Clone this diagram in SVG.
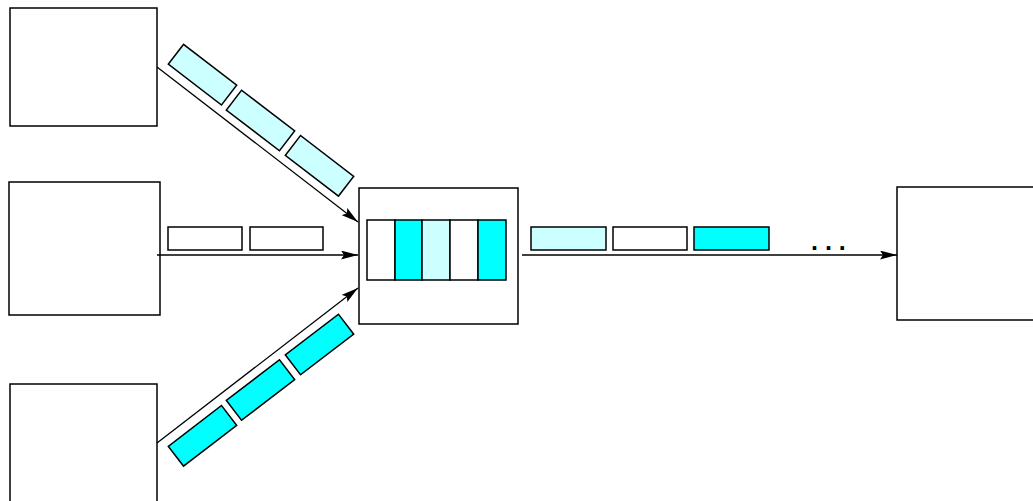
<svg xmlns="http://www.w3.org/2000/svg" width="1033" height="501" viewBox="0 0 1033 501">
<style>
.box{fill:#fff;stroke:#000;stroke-width:1.5}
.pk{stroke:#000;stroke-width:1.5}
.w{fill:#fff}
.lc{fill:#ccffff}
.c{fill:#00ffff}
.ln{fill:none;stroke:#000;stroke-width:1.3;marker-end:url(#ah)}
.dots{font-family:"Liberation Sans",Arial,sans-serif;font-size:25px;font-weight:bold;fill:#000}
</style>
<defs>
<marker id="ah" markerUnits="userSpaceOnUse" markerWidth="18" markerHeight="10" refX="17" refY="4.5" orient="auto">
<path d="M0,0 L17,4.5 L0,9 L3,4.5 z" fill="#000"/>
</marker>
</defs>
<g id="src1"><rect class="box" x="10" y="8" width="147" height="118"/></g>
<g id="src2"><rect class="box" x="9" y="182" width="151" height="133"/></g>
<g id="src3"><rect class="box" x="10" y="384" width="147" height="125"/></g>
<g id="dest"><path class="box" d="M1040,187 L897,187 L897,320 L1040,320"/></g>
<g id="connectors">
<line class="ln" x1="157" y1="67" x2="358" y2="222"/>
<line class="ln" x1="157" y1="255" x2="358" y2="255"/>
<line class="ln" x1="157" y1="443" x2="358" y2="288"/>
<line class="ln" x1="522" y1="255" x2="897" y2="255"/>
</g>
<g id="router">
<rect class="box" x="359" y="188" width="159" height="136"/>
<rect class="pk w" x="367" y="220" width="28" height="60"/>
<rect class="pk c" x="395" y="220" width="27" height="60"/>
<rect class="pk lc" x="422" y="220" width="28" height="60"/>
<rect class="pk w" x="450" y="220" width="28" height="60"/>
<rect class="pk c" x="478" y="220" width="28" height="60"/>
</g>
<g id="packets-top">
<rect class="pk lc" x="-33.5" y="-12.5" width="67" height="25" transform="translate(202.5,74.7) rotate(37.5)"/>
<rect class="pk lc" x="-33.5" y="-12.5" width="67" height="25" transform="translate(260.5,120.5) rotate(37.5)"/>
<rect class="pk lc" x="-33.5" y="-12.5" width="67" height="25" transform="translate(319.5,165.8) rotate(37.5)"/>
</g>
<g id="packets-mid">
<rect class="pk w" x="168" y="227" width="74" height="23"/>
<rect class="pk w" x="250" y="227" width="73" height="23"/>
</g>
<g id="packets-bottom">
<rect class="pk c" x="-33.5" y="-12.5" width="67" height="25" transform="translate(202.5,435.8) rotate(-37.5)"/>
<rect class="pk c" x="-33.5" y="-12.5" width="67" height="25" transform="translate(260.5,390) rotate(-37.5)"/>
<rect class="pk c" x="-33.5" y="-12.5" width="67" height="25" transform="translate(319.5,344.5) rotate(-37.5)"/>
</g>
<g id="packets-out">
<rect class="pk lc" x="531" y="227" width="75" height="23"/>
<rect class="pk w" x="613" y="227" width="74" height="23"/>
<rect class="pk c" x="694" y="227" width="75" height="23"/>
<text class="dots" x="811" y="250">. . .</text>
</g>
</svg>
